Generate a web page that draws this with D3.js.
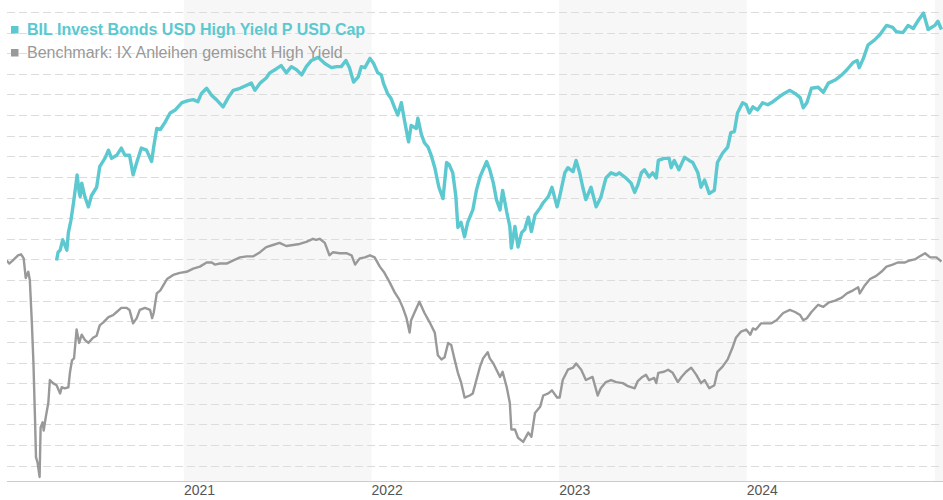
<!DOCTYPE html>
<html>
<head>
<meta charset="utf-8">
<script src="https://cdn.jsdelivr.net/npm/d3@7"></script>
<style>
  body { margin: 0; background: #fff; }
  svg { display: block; font-family: "Liberation Sans", Arial, sans-serif; }
</style>
</head>
<body>
<div id="chart"></div>
<script>
// series names / axis labels
const fundName = "BIL Invest Bonds USD High Yield P USD Cap";
const benchName = "Benchmark: IX Anleihen gemischt High Yield";
const yearLabels = ["2021", "2022", "2023", "2024"];
const shadedYears = ["2021", "2023", "2025"];
const gridValues = d3.range(80, 124.1, 2);

// fund (teal) - indexed values
const fundSeries = [
  ["2020-04-28",99.9],["2020-05-01",100.7],["2020-05-05",100.9],["2020-05-10",101.9],["2020-05-14",101.4],["2020-05-18",100.9],["2020-05-21",102.6],["2020-05-26",103.8],["2020-05-31",105.5],["2020-06-05",107.4],["2020-06-07",108.2],["2020-06-11",106.5],["2020-06-13",106.1],["2020-06-16",107.4],["2020-06-22",106.1],["2020-06-29",105.1],["2020-07-05",106.2],["2020-07-15",107.0],["2020-07-21",109.0],["2020-07-31",109.8],["2020-08-07",110.6],["2020-08-13",109.8],["2020-08-23",110.1],["2020-09-01",110.8],["2020-09-08",110.1],["2020-09-17",110.1],["2020-09-24",108.2],["2020-10-01",109.4],["2020-10-10",110.8],["2020-10-20",110.6],["2020-10-30",109.5],["2020-11-03",110.9],["2020-11-09",112.7],["2020-11-16",112.6],["2020-11-25",113.3],["2020-12-05",114.2],["2020-12-15",114.5],["2020-12-28",115.2],
  ["2021-01-09",115.4],["2021-01-19",115.5],["2021-01-28",115.3],["2021-02-04",116.1],["2021-02-14",116.6],["2021-02-24",115.9],["2021-03-05",115.5],["2021-03-18",114.8],["2021-03-28",115.7],["2021-04-07",116.4],["2021-04-20",116.6],["2021-05-03",116.9],["2021-05-12",117.1],["2021-05-19",116.4],["2021-05-29",117.1],["2021-06-10",117.6],["2021-06-17",118.1],["2021-06-30",118.5],["2021-07-09",118.8],["2021-07-19",118.1],["2021-07-29",118.7],["2021-08-08",118.4],["2021-08-18",117.9],["2021-08-27",118.7],["2021-09-06",119.3],["2021-09-19",119.6],["2021-10-02",119.0],["2021-10-15",118.6],["2021-10-25",118.7],["2021-11-03",118.7],["2021-11-12",119.3],["2021-11-19",118.6],["2021-11-27",117.2],["2021-12-06",117.7],["2021-12-12",118.7],["2021-12-19",118.6],["2021-12-29",119.5],
  ["2022-01-05",119.0],["2022-01-13",118.1],["2022-01-20",117.9],["2022-01-24",117.1],["2022-02-01",116.1],["2022-02-08",115.6],["2022-02-15",114.7],["2022-02-21",114.0],["2022-02-28",115.2],["2022-03-06",113.5],["2022-03-14",111.4],["2022-03-19",113.0],["2022-03-29",112.7],["2022-04-01",113.7],["2022-04-08",112.1],["2022-04-14",111.3],["2022-04-21",110.9],["2022-04-27",110.1],["2022-05-04",108.9],["2022-05-12",107.0],["2022-05-20",105.9],["2022-05-27",109.4],["2022-06-01",109.2],["2022-06-08",108.4],["2022-06-14",106.1],["2022-06-18",103.1],["2022-06-24",103.6],["2022-07-01",102.2],["2022-07-07",103.6],["2022-07-17",104.8],["2022-07-24",106.7],["2022-07-31",108.0],["2022-08-06",108.7],["2022-08-13",109.5],["2022-08-19",108.7],["2022-08-26",107.4],["2022-09-01",105.8],["2022-09-08",104.8],["2022-09-13",106.7],["2022-09-21",104.6],["2022-09-27",103.2],["2022-09-30",101.1],["2022-10-07",103.2],["2022-10-13",101.2],["2022-10-20",102.6],["2022-10-26",102.9],["2022-11-02",104.1],["2022-11-08",102.7],["2022-11-15",104.3],["2022-11-25",105.0],["2022-12-01",105.5],["2022-12-11",106.1],["2022-12-18",107.0],["2022-12-28",105.1],
  ["2023-01-02",106.1],["2023-01-12",108.4],["2023-01-18",108.9],["2023-01-28",108.5],["2023-02-03",109.6],["2023-02-10",108.4],["2023-02-16",107.0],["2023-02-22",105.8],["2023-03-04",107.0],["2023-03-14",105.1],["2023-03-23",106.0],["2023-04-02",107.9],["2023-04-12",108.4],["2023-04-22",108.2],["2023-04-28",108.4],["2023-05-11",107.9],["2023-05-21",107.4],["2023-05-28",106.5],["2023-06-03",107.2],["2023-06-10",108.4],["2023-06-16",108.7],["2023-06-25",108.0],["2023-07-02",108.4],["2023-07-09",107.9],["2023-07-13",109.6],["2023-07-24",109.8],["2023-08-03",109.8],["2023-08-07",108.9],["2023-08-13",109.6],["2023-08-22",108.7],["2023-09-02",109.9],["2023-09-11",109.6],["2023-09-18",109.4],["2023-09-28",108.4],["2023-10-04",107.0],["2023-10-11",107.7],["2023-10-20",106.4],["2023-10-30",106.7],["2023-11-05",109.4],["2023-11-15",110.3],["2023-11-25",110.9],["2023-12-01",112.3],["2023-12-08",112.4],["2023-12-14",114.2],["2023-12-24",115.2],["2023-12-31",115.0],
  ["2024-01-06",114.2],["2024-01-13",114.8],["2024-01-22",114.5],["2024-02-01",115.2],["2024-02-11",115.0],["2024-02-21",115.3],["2024-03-05",115.8],["2024-03-14",116.1],["2024-03-25",116.4],["2024-04-04",116.1],["2024-04-14",115.7],["2024-04-20",114.7],["2024-04-27",115.2],["2024-05-06",116.6],["2024-05-19",116.7],["2024-05-29",116.2],["2024-06-08",117.1],["2024-06-21",117.4],["2024-07-04",117.9],["2024-07-14",118.4],["2024-07-26",119.1],["2024-08-03",119.3],["2024-08-07",118.6],["2024-08-15",119.5],["2024-08-24",120.8],["2024-09-06",121.3],["2024-09-16",121.8],["2024-09-29",122.7],["2024-10-11",122.5],["2024-10-18",122.1],["2024-10-31",122.0],["2024-11-10",122.7],["2024-11-20",122.4],["2024-11-30",123.2],["2024-12-10",123.9],["2024-12-19",122.3],
  ["2025-01-01",122.7],["2025-01-07",123.1],["2025-01-14",122.3]
];

// benchmark (grey) - indexed values
const benchSeries = [
  ["2020-01-22",99.9],["2020-01-27",99.6],["2020-02-03",99.9],["2020-02-13",100.4],["2020-02-19",100.5],["2020-02-24",100.1],["2020-02-28",98.2],["2020-03-04",98.8],["2020-03-07",98.0],["2020-03-11",93.8],["2020-03-14",90.0],["2020-03-17",84.7],["2020-03-19",80.8],["2020-03-22",80.3],["2020-03-26",78.9],["2020-03-28",83.7],["2020-04-01",84.2],["2020-04-03",83.4],["2020-04-07",84.7],["2020-04-12",86.1],["2020-04-15",88.3],["2020-04-21",88.0],["2020-04-28",87.8],["2020-05-05",87.0],["2020-05-08",87.6],["2020-05-14",87.5],["2020-05-21",87.6],["2020-05-24",89.0],["2020-05-28",90.2],["2020-06-01",90.4],["2020-06-06",93.2],["2020-06-11",91.9],["2020-06-16",92.7],["2020-06-22",92.2],["2020-06-29",91.9],["2020-07-08",92.4],["2020-07-15",92.6],["2020-07-21",93.6],["2020-07-28",93.9],["2020-08-07",94.4],["2020-08-16",94.6],["2020-08-23",94.9],["2020-09-01",95.3],["2020-09-11",95.3],["2020-09-17",95.1],["2020-09-24",93.8],["2020-10-01",94.3],["2020-10-07",95.1],["2020-10-17",95.3],["2020-10-27",95.1],["2020-10-31",94.3],["2020-11-03",94.8],["2020-11-09",96.7],["2020-11-16",97.0],["2020-11-22",97.5],["2020-11-29",98.1],["2020-12-11",98.5],["2020-12-24",98.7],
  ["2021-01-06",98.8],["2021-01-19",99.1],["2021-02-01",99.3],["2021-02-14",99.7],["2021-02-24",99.7],["2021-03-02",99.5],["2021-03-12",99.6],["2021-03-25",99.6],["2021-04-07",99.9],["2021-04-20",100.2],["2021-05-03",100.3],["2021-05-16",100.3],["2021-05-29",100.7],["2021-06-10",101.2],["2021-06-23",101.4],["2021-07-06",101.6],["2021-07-19",101.3],["2021-08-01",101.4],["2021-08-14",101.5],["2021-08-27",101.7],["2021-09-09",102.0],["2021-09-15",101.9],["2021-09-22",102.0],["2021-10-02",101.6],["2021-10-11",100.4],["2021-10-18",100.7],["2021-10-31",100.6],["2021-11-13",100.6],["2021-11-23",100.4],["2021-11-30",99.5],["2021-12-09",100.1],["2021-12-19",100.2],["2021-12-29",100.4],
  ["2022-01-07",100.2],["2022-01-17",99.3],["2022-01-26",98.7],["2022-02-05",97.8],["2022-02-15",96.8],["2022-02-24",96.1],["2022-03-03",95.3],["2022-03-10",94.3],["2022-03-16",92.9],["2022-03-19",94.1],["2022-03-26",94.9],["2022-04-04",95.9],["2022-04-14",94.8],["2022-04-24",93.9],["2022-05-04",92.9],["2022-05-10",90.7],["2022-05-17",90.3],["2022-05-23",90.5],["2022-05-30",91.9],["2022-06-05",91.7],["2022-06-11",90.4],["2022-06-18",89.0],["2022-06-24",88.1],["2022-07-01",86.6],["2022-07-11",86.8],["2022-07-17",87.0],["2022-07-24",88.3],["2022-07-31",89.6],["2022-08-06",90.4],["2022-08-15",91.0],["2022-08-19",90.4],["2022-08-26",89.9],["2022-09-01",89.3],["2022-09-08",88.6],["2022-09-13",89.1],["2022-09-21",87.6],["2022-09-27",86.1],["2022-09-30",83.5],["2022-10-07",83.5],["2022-10-13",82.7],["2022-10-23",82.3],["2022-11-02",83.2],["2022-11-08",82.8],["2022-11-15",85.1],["2022-11-25",85.7],["2022-12-01",86.8],["2022-12-11",87.0],["2022-12-18",87.3],["2022-12-28",86.6],
  ["2023-01-02",86.6],["2023-01-08",88.3],["2023-01-18",89.3],["2023-01-28",89.5],["2023-02-03",89.9],["2023-02-13",89.3],["2023-02-22",88.3],["2023-03-07",88.6],["2023-03-17",86.8],["2023-03-23",87.5],["2023-04-02",88.1],["2023-04-12",88.3],["2023-04-22",88.1],["2023-05-05",88.0],["2023-05-15",87.7],["2023-05-28",87.5],["2023-06-03",88.2],["2023-06-12",88.6],["2023-06-19",88.8],["2023-06-25",88.3],["2023-07-05",88.5],["2023-07-09",88.0],["2023-07-13",89.0],["2023-07-24",89.1],["2023-08-01",89.3],["2023-08-10",89.0],["2023-08-20",88.1],["2023-08-27",88.6],["2023-09-05",89.1],["2023-09-15",89.5],["2023-09-25",88.8],["2023-10-04",88.0],["2023-10-11",88.3],["2023-10-20",87.5],["2023-10-30",87.8],["2023-11-05",89.1],["2023-11-15",89.6],["2023-11-25",90.3],["2023-12-04",91.4],["2023-12-11",92.4],["2023-12-21",93.0],["2023-12-31",93.2],
  ["2024-01-08",92.7],["2024-01-13",93.3],["2024-01-19",93.2],["2024-01-29",93.8],["2024-02-08",93.8],["2024-02-18",93.8],["2024-02-28",94.1],["2024-03-12",94.8],["2024-03-25",95.1],["2024-04-04",94.9],["2024-04-14",94.6],["2024-04-20",94.1],["2024-04-27",94.3],["2024-05-06",94.9],["2024-05-19",95.6],["2024-05-29",95.4],["2024-06-08",95.8],["2024-06-21",96.0],["2024-07-04",96.3],["2024-07-14",96.7],["2024-07-26",97.0],["2024-08-05",97.3],["2024-08-08",96.7],["2024-08-18",97.5],["2024-08-28",98.1],["2024-09-09",98.4],["2024-09-19",98.8],["2024-09-29",99.3],["2024-10-11",99.5],["2024-10-21",99.7],["2024-11-04",99.7],["2024-11-13",99.9],["2024-11-23",100.0],["2024-12-03",100.3],["2024-12-13",100.6],["2024-12-23",100.2],
  ["2025-01-04",100.2],["2025-01-14",99.8]
];

const width = 943, height = 500;
const plot = { left: 7, right: 943, top: 0, bottom: 481 };
const fundColor = "#5cc8cf";
const benchColor = "#999999";

const parseDate = d3.utcParse("%Y-%m-%d");

const x = d3.scaleUtc()
    .domain([parseDate("2021-01-01"), parseDate("2025-01-01")])
    .range([184, 934.8]);

const y = d3.scaleLinear()
    .domain([80, 124])
    .range([465.6, 12]);

const svg = d3.select("#chart")
    .append("svg")
    .attr("width", width)
    .attr("height", height);

svg.append("defs").append("clipPath")
    .attr("id", "plot-clip")
    .append("rect")
    .attr("x", plot.left)
    .attr("y", plot.top)
    .attr("width", plot.right - plot.left)
    .attr("height", plot.bottom - plot.top);

// alternating year bands
svg.append("g")
    .attr("clip-path", "url(#plot-clip)")
    .selectAll("rect")
    .data(shadedYears)
    .enter()
    .append("rect")
    .attr("x", d => x(parseDate(d + "-01-01")))
    .attr("y", plot.top)
    .attr("width", d => x(parseDate((+d + 1) + "-01-01")) - x(parseDate(d + "-01-01")))
    .attr("height", plot.bottom - plot.top)
    .attr("fill", "#f7f7f7");

// dashed grid lines
svg.append("g")
    .selectAll("line")
    .data(gridValues)
    .enter()
    .append("line")
    .attr("x1", plot.left)
    .attr("x2", plot.right)
    .attr("y1", d => Math.round(y(d)) + 0.5)
    .attr("y2", d => Math.round(y(d)) + 0.5)
    .attr("stroke", "#dcdcdc")
    .attr("stroke-width", 1)
    .attr("stroke-dasharray", "8,4");

// x axis baseline
svg.append("line")
    .attr("x1", plot.left)
    .attr("x2", plot.right)
    .attr("y1", plot.bottom + 0.5)
    .attr("y2", plot.bottom + 0.5)
    .attr("stroke", "#cccccc");

// year labels
svg.append("g")
    .selectAll("text")
    .data(yearLabels)
    .enter()
    .append("text")
    .attr("x", d => x(parseDate(d + "-01-01")))
    .attr("y", 495)
    .attr("text-anchor", "start")
    .style("font-size", "14px")
    .style("fill", "#555")
    .text(d => d);

const line = d3.line()
    .x(d => x(parseDate(d[0])))
    .y(d => y(d[1]));

const lines = svg.append("g").attr("clip-path", "url(#plot-clip)");

lines.append("path")
    .datum(benchSeries)
    .attr("d", line)
    .attr("fill", "none")
    .attr("stroke", benchColor)
    .attr("stroke-width", 2.4)
    .attr("stroke-linejoin", "round");

lines.append("path")
    .datum(fundSeries)
    .attr("d", line)
    .attr("fill", "none")
    .attr("stroke", fundColor)
    .attr("stroke-width", 3.4)
    .attr("stroke-linejoin", "round");

// legend
const legendItems = [
    { name: fundName, color: fundColor, weight: "bold", textColor: fundColor },
    { name: benchName, color: benchColor, weight: "normal", textColor: "#999" }
];

const legend = svg.append("g").selectAll("g")
    .data(legendItems)
    .enter()
    .append("g")
    .attr("transform", (d, i) => `translate(11, ${26 + i * 23})`);

legend.append("rect")
    .attr("width", 7.5)
    .attr("height", 7.5)
    .attr("fill", d => d.color);

legend.append("text")
    .attr("x", 16)
    .attr("y", 8.5)
    .style("font-size", "16px")
    .style("font-weight", d => d.weight)
    .style("fill", d => d.textColor)
    .text(d => d.name);
</script>
</body>
</html>
